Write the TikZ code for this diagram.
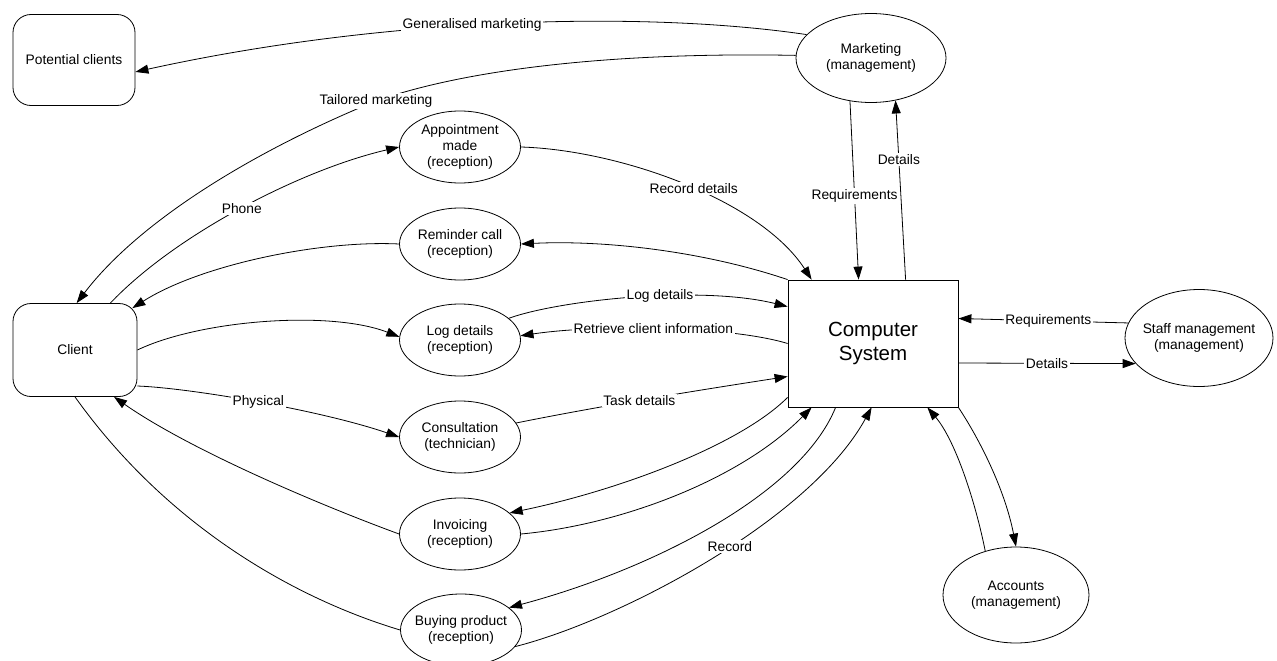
\documentclass[tikz,border=0pt]{standalone}
\usepackage{fontspec}
\setmainfont{Liberation Sans}
\usetikzlibrary{arrows.meta,shapes.geometric}
\begin{document}
\begin{tikzpicture}[x=1pt,y=-1pt,
  every node/.style={font=\fontsize{13.8}{16.3}\selectfont},
  proc/.style={draw, ellipse, line width=0.8pt, align=center, inner xsep=-8pt, inner ysep=0pt, minimum width=121pt, minimum height=72pt},
  ext/.style={draw, rounded corners=18pt, line width=0.8pt, align=center},
  sysbox/.style={draw, line width=0.8pt, align=center, font=\fontsize{20.5}{24}\selectfont},
  lbl/.style={fill=white, inner sep=1.5pt},
  flow/.style={line width=0.8pt, -{Triangle[length=13pt,width=9pt]}},
  plainflow/.style={line width=0.8pt}]
\useasboundingbox (0,0) rectangle (1277,661);

% nodes
\node[ext, minimum width=122pt, minimum height=91pt] (pc) at (74,60) {Potential clients};
\node[ext, minimum width=124pt, minimum height=93pt] (cl) at (75,350) {Client};
\node[proc] (appt) at (460,147) {Appointment\\made\\(reception)};
\node[proc] (rem) at (460,244) {Reminder call\\(reception)};
\node[proc] (log) at (460,340) {Log details\\(reception)};
\node[proc] (con) at (460,437) {Consultation\\(technician)};
\node[proc] (inv) at (460,534) {Invoicing\\(reception)};
\node[proc] (buy) at (461,630) {Buying product\\(reception)};
\node[proc, minimum width=150pt, minimum height=89pt] (mkt) at (871,58) {Marketing\\(management)};
\node[sysbox, minimum width=170pt, minimum height=127pt] (cs) at (873,343.5) {Computer\\System};
\node[proc, minimum width=148pt, minimum height=97pt] (staff) at (1199,338) {Staff management\\(management)};
\node[proc, minimum width=146pt, minimum height=96pt] (acc) at (1016,595) {Accounts\\(management)};

% connectors
\draw[flow] (mkt.160) .. controls (640,10) and (380,18) .. (pc.-11)
  node[lbl,pos=0.54] (lgen) {Generalised marketing};
\draw[flow] (mkt.178) .. controls (620,52) and (470,68) .. (376,101)
  node[lbl] (ltail) {Tailored marketing}
  .. controls (256,150) and (140,220) .. (cl.88);
\draw[flow] (cl.53) .. controls (175,235) and (300,170) .. (appt.west)
  node[lbl,pos=0.5] (lphone) {Phone};
\draw[flow] (cs.north west) .. controls (700,250) and (600,240) .. (rem.east);
\draw[flow] (rem.west) .. controls (320,240) and (200,265) .. ([xshift=-5pt,yshift=-5pt]cl.north east);
\draw[flow] (appt.east) .. controls (620,150) and (760,200) .. ([xshift=24pt]cs.north west)
  node[lbl,pos=0.53] (lrec) {Record details};
\draw[flow] (cl.east) .. controls (200,320) and (330,310) .. (log.177);
\draw[flow] (log.24) .. controls (560,300) and (700,285) .. ([yshift=-27pt]cs.north west)
  node[lbl,pos=0.58] (llog) {Log details};
\draw[flow] (cs.west) .. controls (730,326) and (600,324) .. (log.4)
  node[lbl,pos=0.53] (lret) {Retrieve client information};
\draw[flow] ([yshift=-36pt]cl.east) .. controls (190,388) and (320,410) .. (con.west)
  node[lbl,pos=0.5] (lphys) {Physical};
\draw[flow] (con.14) .. controls (600,406) and (700,390) .. ([yshift=-33pt]cs.west)
  node[lbl,pos=0.46] (ltask) {Task details};
\draw[flow] ([yshift=10pt]cs.south west) .. controls (740,445) and (620,490) .. (inv.23);
\draw[flow] (inv.east) .. controls (620,525) and (740,480) .. ([xshift=24pt]cs.south west);
\draw[flow] (inv.west) .. controls (320,505) and (190,450) .. ([xshift=39pt]cl.south);
\draw[flow] ([xshift=48pt]cs.south west) .. controls (800,495) and (650,570) .. (buy.25);
\draw[flow] (buy.-17) .. controls (620,620) and (810,520) .. ([xshift=84pt]cs.south west)
  node[lbl,pos=0.55] (lrecord) {Record};
\draw[plainflow] (buy.west) .. controls (300,600) and (170,530) .. (cl.south);
\draw[flow] (mkt.244) -- ([xshift=71pt]cs.north west)
  node[lbl,pos=0.53] (lreqm) {Requirements};
\draw[flow] ([xshift=118pt]cs.north west) -- (mkt.300)
  node[lbl,pos=0.67] (ldetm) {Details};
\draw[flow] (staff.168) -- ([yshift=25pt]cs.east)
  node[lbl,pos=0.47] (lreqs) {Requirements};
\draw[flow] ([yshift=-19.5pt]cs.east) -- (staff.202)
  node[lbl,pos=0.5] (ldets) {Details};
\draw[flow] (acc.125) .. controls (975,500) and (955,440) .. ([xshift=-31pt]cs.south east);
\draw[flow] (cs.south east) .. controls (980,440) and (1005,490) .. (acc.north);
\end{tikzpicture}
\end{document}
